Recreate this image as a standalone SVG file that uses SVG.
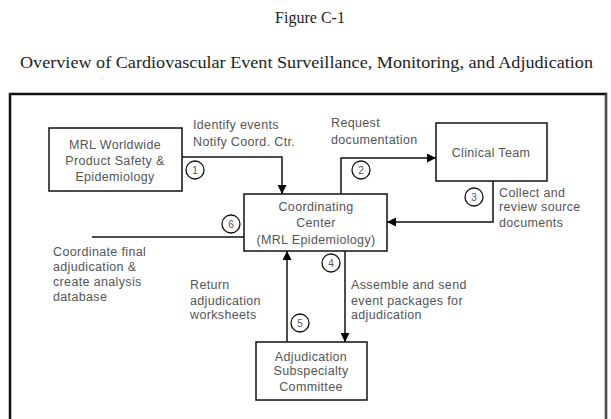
<svg xmlns="http://www.w3.org/2000/svg" width="611" height="419" viewBox="0 0 611 419">
<defs>
<marker id="ah" viewBox="0 0 10 10" refX="10" refY="5" markerWidth="9" markerHeight="9" markerUnits="userSpaceOnUse" orient="auto">
<path d="M0,0 L10,5 L0,10 z" fill="#000"/>
</marker>
<style>
.title{font-family:"Liberation Serif",serif;font-size:16px;fill:#222}
.t{font-family:"Liberation Sans",Arial,sans-serif;font-size:12.5px;letter-spacing:0.35px;fill:#555}
.box{fill:#fff;stroke:#111;stroke-width:1.5}
.c{fill:none;stroke:#111;stroke-width:1.3}
.n{font-family:"Liberation Sans",Arial,sans-serif;font-size:10px;fill:#555;text-anchor:middle}
.ln{fill:none;stroke:#111;stroke-width:1.5}
.mid{text-anchor:middle}
</style>
</defs>
<rect width="611" height="419" fill="#fff"/>
<text class="title mid" x="310" y="23">Figure C-1</text>
<text class="title" x="20" y="68" textLength="573" lengthAdjust="spacingAndGlyphs">Overview of Cardiovascular Event Surveillance, Monitoring, and Adjudication</text>
<path d="M10,425 V94 H606 V425" fill="none" stroke="#111" stroke-width="2.5"/>
<path d="M606,94 V425" fill="none" stroke="#888" stroke-width="1"/>

<g id="connectors">
<path class="ln" d="M182,157 H282 V194" marker-end="url(#ah)"/>
<path class="ln" d="M341,194 V158 H436" marker-end="url(#ah)"/>
<path class="ln" d="M493,181 V222 H387" marker-end="url(#ah)"/>
<path class="ln" d="M345,251 V342" marker-end="url(#ah)"/>
<path class="ln" d="M287,342 V251" marker-end="url(#ah)"/>
<path class="ln" d="M92,237 H244"/>
<circle class="c" cx="195" cy="170" r="9"/><text class="n" x="195" y="174">1</text>
<circle class="c" cx="361" cy="170" r="9"/><text class="n" x="361" y="174">2</text>
<circle class="c" cx="474" cy="197" r="9"/><text class="n" x="474" y="201">3</text>
<circle class="c" cx="331" cy="263" r="9"/><text class="n" x="331" y="267">4</text>
<circle class="c" cx="300" cy="323" r="9"/><text class="n" x="300" y="327">5</text>
<circle class="c" cx="231" cy="224" r="9"/><text class="n" x="231" y="228">6</text>
<text class="t" x="193" y="129">Identify events</text>
<text class="t" x="193" y="146">Notify Coord. Ctr.</text>
<text class="t" x="331" y="127">Request</text>
<text class="t" x="331" y="144">documentation</text>
<text class="t" x="499" y="197">Collect and</text>
<text class="t" x="499" y="211">review source</text>
<text class="t" x="499" y="227">documents</text>
<text class="t" x="53" y="256">Coordinate final</text>
<text class="t" x="53" y="271">adjudication &amp;</text>
<text class="t" x="53" y="286">create analysis</text>
<text class="t" x="53" y="301">database</text>
<text class="t" x="190" y="289">Return</text>
<text class="t" x="190" y="305">adjudication</text>
<text class="t" x="190" y="319">worksheets</text>
<text class="t" x="351" y="289">Assemble and send</text>
<text class="t" x="351" y="305">event packages for</text>
<text class="t" x="351" y="319">adjudication</text>
</g>

<g id="mrl">
<rect class="box" x="49" y="128" width="133" height="63"/>
<text class="t mid" x="115" y="149">MRL Worldwide</text>
<text class="t mid" x="115" y="165">Product Safety &amp;</text>
<text class="t mid" x="115" y="181">Epidemiology</text>
</g>
<g id="coord">
<rect class="box" x="244" y="194" width="143" height="57"/>
<text class="t mid" x="316" y="211">Coordinating</text>
<text class="t mid" x="316" y="227">Center</text>
<text class="t mid" x="316" y="244">(MRL Epidemiology)</text>
</g>
<g id="clinical">
<rect class="box" x="436" y="123" width="111" height="58"/>
<text class="t mid" x="491" y="157">Clinical Team</text>
</g>
<g id="adjud">
<rect class="box" x="256" y="342" width="111" height="58"/>
<text class="t mid" x="311" y="361">Adjudication</text>
<text class="t mid" x="311" y="375">Subspecialty</text>
<text class="t mid" x="311" y="391">Committee</text>
</g>
</svg>
